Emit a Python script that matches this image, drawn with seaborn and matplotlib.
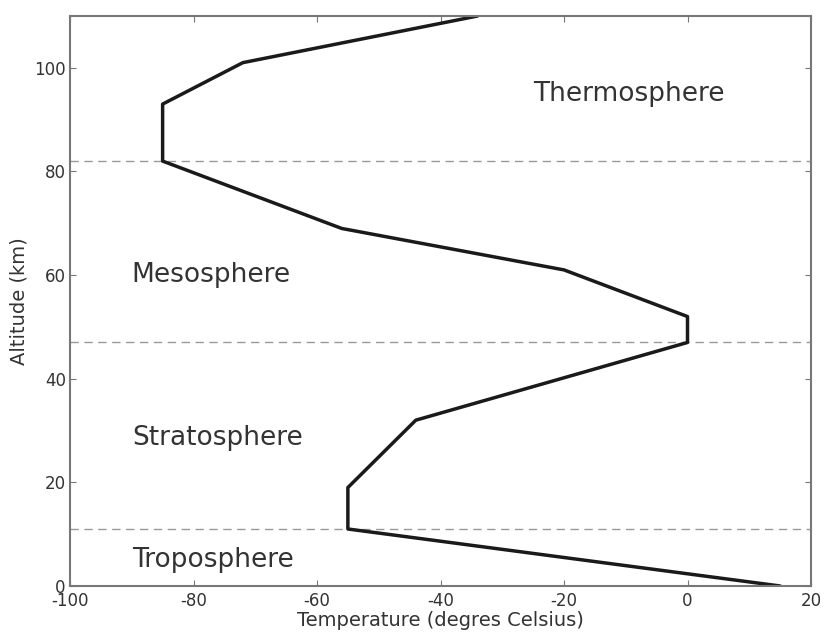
import matplotlib
matplotlib.use("Agg")
import matplotlib.pyplot as plt
import seaborn as sns
import pandas as pd

altitude = [0, 11, 19, 32, 47, 52, 61, 69, 82, 93, 101, 110]
temperature = [15, -55, -55, -44, 0, 0, -20, -56, -85, -85, -72, -34]
boundaries = [11, 47, 82]
layer_names = ["Troposphere", "Stratosphere", "Mesosphere", "Thermosphere"]
label_x = [-90, -90, -90, -25]
label_y = [5, 28.5, 60, 95]

sns.set_style("white")
plt.rcParams.update({
    "xtick.direction": "in", "ytick.direction": "in",
    "xtick.top": True, "ytick.right": True,
    "xtick.bottom": True, "ytick.left": True,
    "xtick.major.size": 4, "ytick.major.size": 4,
    "xtick.color": "#777777", "ytick.color": "#777777",
    "xtick.labelcolor": "#333333", "ytick.labelcolor": "#333333",
    "axes.edgecolor": "#777777", "axes.linewidth": 1.5,
    "axes.unicode_minus": False,
})
plt.rcParams["font.family"] = ["DejaVu Sans"]

df = pd.DataFrame({"Temperature": temperature, "Altitude": altitude})

fig = plt.figure(figsize=(8.25, 6.33), dpi=100)
ax = fig.add_axes([70/825, 1-586/633, 741/825, 570/633])
for b in boundaries:
    ax.axhline(b, color="#999999", linestyle=(0, (6, 4)), linewidth=1.0)
sns.lineplot(data=df, x="Temperature", y="Altitude", sort=False, estimator=None,
             color="#1a1a1a", linewidth=2.5, ax=ax)
for name, lx, ly in zip(layer_names, label_x, label_y):
    ax.text(lx, ly, name, fontsize=19, color="#333333", va="center", ha="left")

ax.set_xlim(-100, 20)
ax.set_ylim(0, 110)
ax.set_xticks([-100, -80, -60, -40, -20, 0, 20])
ax.set_yticks([0, 20, 40, 60, 80, 100])
ax.tick_params(axis="x", labelsize=12, pad=4)
ax.tick_params(axis="y", labelsize=12, pad=3)
ax.set_xlabel("Temperature (degres Celsius)", fontsize=14, color="#333333", labelpad=1)
ax.set_ylabel("Altitude (km)", fontsize=14, color="#333333", labelpad=4)
fig.savefig("out.png", dpi=100)
